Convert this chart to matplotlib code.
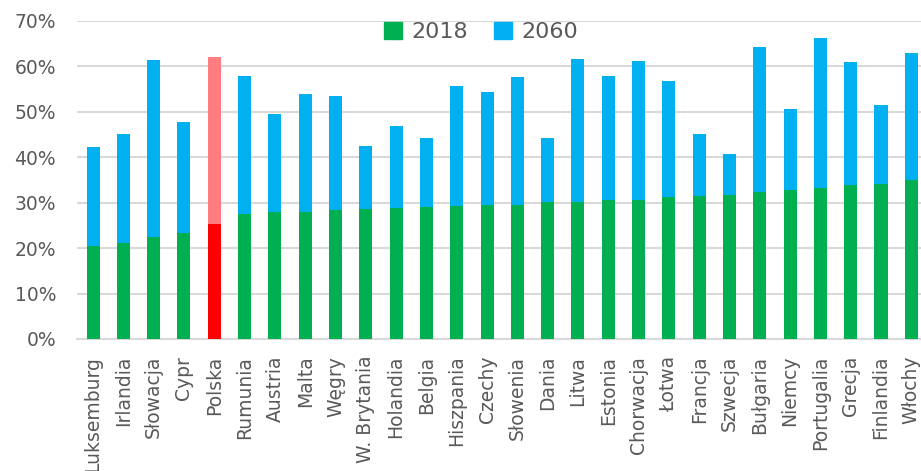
import numpy as np
import matplotlib.pyplot as plt
from matplotlib.ticker import PercentFormatter
from matplotlib.patches import Patch

countries = ["Luksemburg", "Irlandia", "Słowacja", "Cypr", "Polska", "Rumunia",
             "Austria", "Malta", "Węgry", "W. Brytania", "Holandia", "Belgia",
             "Hiszpania", "Czechy", "Słowenia", "Dania", "Litwa", "Estonia",
             "Chorwacja", "Łotwa", "Francja", "Szwecja", "Bułgaria", "Niemcy",
             "Portugalia", "Grecja", "Finlandia", "Włochy"]
# wskaźnik w 2018 i w 2060 (w %)
v2018 = [20.5, 21.1, 22.5, 23.4, 25.3, 27.5, 27.9, 28.0, 28.4, 28.6, 28.9, 29.1,
         29.2, 29.6, 29.6, 30.1, 30.1, 30.6, 30.6, 31.3, 31.5, 31.7, 32.4, 32.7,
         33.3, 34.0, 34.2, 35.0]
v2060 = [42.2, 45.1, 61.4, 47.7, 62.0, 57.9, 49.6, 53.9, 53.4, 42.4, 46.8, 44.2,
         55.8, 54.3, 57.6, 44.3, 61.7, 57.8, 61.2, 56.7, 45.1, 40.8, 64.2, 50.7,
         66.2, 60.9, 51.5, 62.9]

green, blue = "#00B050", "#00B0F0"
red, pink = "#FF0000", "#FF7C80"
gray = "#595959"

x = np.arange(len(countries))
low = np.array(v2018) / 100
high = np.array(v2060) / 100
c_low = [red if c == "Polska" else green for c in countries]
c_high = [pink if c == "Polska" else blue for c in countries]

fig = plt.figure(figsize=(9.21, 4.71), dpi=100)
ax = fig.add_axes([77 / 921, 132 / 471, 844 / 921, 318 / 471])

ax.bar(x, low, width=0.43, color=c_low, zorder=3)
ax.bar(x, high - low, bottom=low, width=0.43, color=c_high, zorder=3)

ax.set_ylim(0, 0.70)
ax.set_yticks(np.arange(0, 0.71, 0.1))
ax.yaxis.set_major_formatter(PercentFormatter(1.0, decimals=0))
ax.set_xlim(-0.53, len(countries) - 1 + 0.32)
ax.set_xticks(x)
ax.set_xticklabels(countries, rotation=90, fontsize=13.5, color=gray)
ax.tick_params(axis="y", labelsize=13.5, labelcolor=gray, length=0, pad=15)
ax.tick_params(axis="x", length=0, pad=12)

ax.grid(axis="y", color="#D9D9D9", linewidth=1.5, zorder=0)
for s in ["top", "right", "left"]:
    ax.spines[s].set_visible(False)
ax.spines["bottom"].set_color("#D9D9D9")
ax.spines["bottom"].set_linewidth(1.5)

handles = [Patch(color=green, label="2018"), Patch(color=blue, label="2060")]
fig.legend(handles=handles, loc="center", bbox_to_anchor=(481 / 921, 1 - 32 / 471),
           ncol=2, frameon=False, fontsize=16, labelcolor=gray,
           handlelength=0.8, handleheight=0.8, handletextpad=0.4, columnspacing=1.2)

fig.savefig("out.png", dpi=100)
